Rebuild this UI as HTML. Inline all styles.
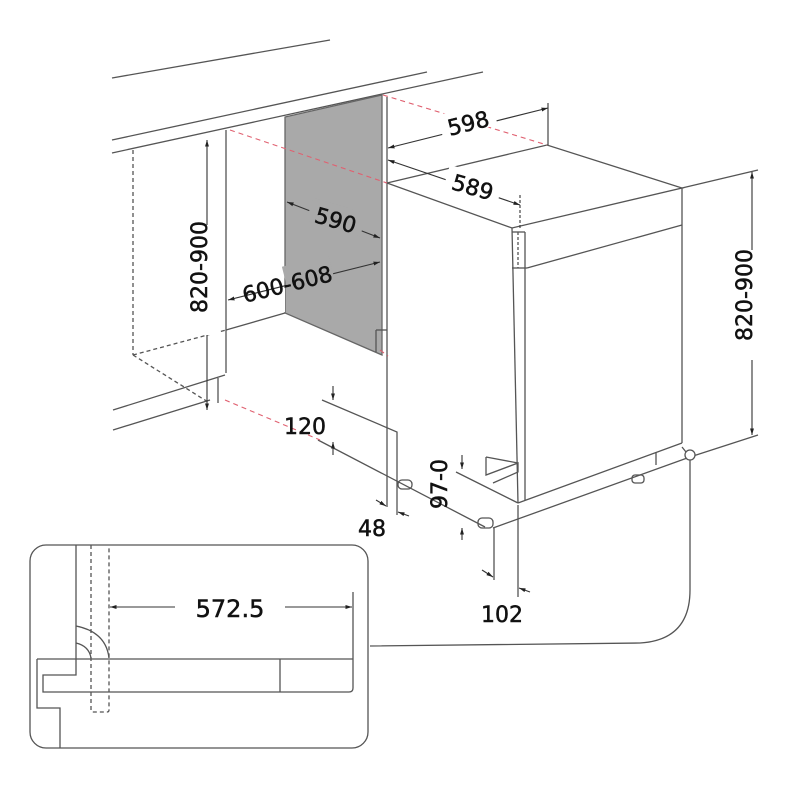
<!DOCTYPE html>
<html><head><style>
html,body{margin:0;padding:0;background:#fff;}
svg{display:block;}
text{font-family:"DejaVu Sans","Liberation Sans",sans-serif;fill:#111;stroke:#111;stroke-width:0.5;}
</style></head><body>
<svg width="800" height="800" viewBox="0 0 800 800" xmlns="http://www.w3.org/2000/svg">
<defs>
<marker id="a" viewBox="0 0 10 10" refX="10" refY="5" markerWidth="6" markerHeight="6" orient="auto-start-reverse"><path d="M0,2 L10,5 L0,8z" fill="#222"/></marker>
</defs>
<g stroke="#555" stroke-width="1.3" fill="none">
<line x1="112" y1="78" x2="330" y2="40"/>
<line x1="112" y1="140" x2="427" y2="72"/>
<line x1="112" y1="153" x2="483" y2="72"/>
<polygon points="285,117 382,95 382,355 285,313" fill="#a9a9a9" stroke="#666"/>
<line x1="226" y1="130" x2="226" y2="373"/>
<line x1="226" y1="330" x2="285" y2="313"/>
<line x1="133" y1="150" x2="133" y2="355" stroke-dasharray="4,3"/>
<line x1="133" y1="355" x2="226" y2="330" stroke-dasharray="4,3"/>
<line x1="133" y1="355" x2="208" y2="402" stroke-dasharray="4,3"/>
<line x1="113" y1="410" x2="225" y2="375"/>
<line x1="113" y1="430" x2="210" y2="400"/>
<line x1="218" y1="378" x2="218" y2="403"/>
<line x1="387" y1="97" x2="387" y2="480"/>
<line x1="376" y1="330" x2="376" y2="352"/>
<line x1="376" y1="330" x2="387" y2="330"/>
<polyline points="322,400 397,432 397,485"/>
<line x1="318" y1="440" x2="485" y2="527"/>
<polygon points="387,183 547,145 682,188 512,228" fill="#fff"/>
<line x1="512" y1="228" x2="518" y2="503"/>
<line x1="525" y1="232" x2="525" y2="500"/>
<line x1="512" y1="232" x2="525" y2="232"/>
<line x1="512" y1="268" x2="527" y2="268"/>
<line x1="527" y1="268" x2="682" y2="225"/>
<line x1="518" y1="232" x2="518" y2="268" stroke-dasharray="3,2"/>
<line x1="682" y1="188" x2="682" y2="443"/>
<line x1="518" y1="503" x2="682" y2="443"/>
<line x1="493" y1="528" x2="690" y2="457"/>
<line x1="682" y1="447" x2="690" y2="457"/>
<line x1="456" y1="472" x2="518" y2="503"/>
<polyline points="486,457 486,475 518,463 518,472 493,483"/>
<line x1="486" y1="457" x2="518" y2="463"/>
<line x1="656" y1="452" x2="656" y2="465"/>
<rect x="398" y="480" width="14" height="9" rx="4"/>
<rect x="478" y="518" width="15" height="10" rx="4"/>
<rect x="632" y="475" width="12" height="8" rx="3"/>
<line x1="494" y1="528" x2="494" y2="580"/>
<line x1="518" y1="505" x2="518" y2="597"/>
<line x1="387" y1="480" x2="387" y2="507"/>
<line x1="397" y1="485" x2="397" y2="515"/>
<line x1="682" y1="188" x2="758" y2="170"/>
<line x1="690" y1="457" x2="758" y2="435"/>
<circle cx="690" cy="455" r="5" fill="#fff"/>
<path d="M690,460 L690,590 Q690,640 640,643 L370,646"/>
<rect x="30" y="545" width="338" height="203" rx="16"/>
<path d="M76,545 L76,675 L43,675 L43,692 L349,692 Q353,692 353,688 L353,592"/>
<path d="M37,659 L353,659"/>
<path d="M37,659 L37,708 L60,708 L60,748"/>
<line x1="280" y1="659" x2="280" y2="692"/>
<path d="M91,545 L91,710 Q91,712 93,712 L107,712 Q109,712 109,710 L109,545" stroke-dasharray="4,3"/>
<path d="M76,626 Q106,632 109,658"/>
<path d="M76,643 Q89,646 91,658"/>
</g>
<g stroke="#e06070" stroke-width="1.1" stroke-dasharray="5,4" fill="none">
<line x1="230" y1="130" x2="387" y2="183"/>
<line x1="383" y1="95" x2="547" y2="145"/>
<line x1="225" y1="400" x2="320" y2="440"/>
<line x1="380" y1="350" x2="388" y2="356"/>
</g>
<g stroke="#333" stroke-width="1.1" fill="none">
<line x1="207" y1="140" x2="207" y2="410" marker-start="url(#a)" marker-end="url(#a)"/>
<line x1="752" y1="172" x2="752" y2="435" marker-start="url(#a)" marker-end="url(#a)"/>
<line x1="388" y1="148" x2="548" y2="108" marker-start="url(#a)" marker-end="url(#a)"/>
<line x1="548" y1="103" x2="548" y2="145"/>
<line x1="388" y1="160" x2="520" y2="205" marker-start="url(#a)" marker-end="url(#a)"/>
<line x1="520" y1="195" x2="520" y2="230" stroke-dasharray="3,2"/>
<line x1="287" y1="202" x2="380" y2="238" marker-start="url(#a)" marker-end="url(#a)"/>
<line x1="228" y1="300" x2="380" y2="262" marker-start="url(#a)" marker-end="url(#a)"/>
<line x1="110" y1="607" x2="352" y2="607" marker-start="url(#a)" marker-end="url(#a)"/>
<line x1="333" y1="386" x2="333" y2="400" marker-end="url(#a)"/>
<line x1="333" y1="455" x2="333" y2="442" marker-end="url(#a)"/>
<line x1="462" y1="455" x2="462" y2="469" marker-end="url(#a)"/>
<line x1="462" y1="540" x2="462" y2="528" marker-end="url(#a)"/>
<line x1="376" y1="500" x2="386" y2="506" marker-end="url(#a)"/>
<line x1="409" y1="516" x2="398" y2="512" marker-end="url(#a)"/>
<line x1="482" y1="570" x2="493" y2="577" marker-end="url(#a)"/>
<line x1="530" y1="592" x2="519" y2="588" marker-end="url(#a)"/>
</g>
<g font-size="22">
<rect x="440" y="108" width="56" height="24" fill="#fff" transform="rotate(-14 468 122)"/>
<text x="468" y="131" text-anchor="middle" transform="rotate(-14 468 122)">598</text>
<rect x="445" y="172" width="56" height="24" fill="#fff" transform="rotate(16 473 186)"/>
<text x="473" y="195" text-anchor="middle" transform="rotate(16 473 186)">589</text>
<rect x="308" y="205" width="56" height="24" fill="#a9a9a9" transform="rotate(16 336 219)"/>
<text x="336" y="228" text-anchor="middle" transform="rotate(16 336 219)">590</text>
<polygon points="236,300 285,288 285,312 240,323" fill="#fff" transform="rotate(0)"/>
<rect x="286" y="266" width="48" height="24" fill="#a9a9a9" transform="rotate(-14 287 283)"/>
<text x="287" y="292" text-anchor="middle" transform="rotate(-14 287 283)">600-608</text>
<rect x="195" y="225" width="24" height="110" fill="#fff"/>
<text x="215" y="275" text-anchor="middle" transform="rotate(-90 207 275)">820-900</text>
<rect x="740" y="250" width="24" height="110" fill="#fff"/>
<text x="760" y="303" text-anchor="middle" transform="rotate(-90 752 303)">820-900</text>
<text x="305" y="434" text-anchor="middle">120</text>
<text x="372" y="536" text-anchor="middle">48</text>
<text x="448" y="499" text-anchor="middle" transform="rotate(-90 440 492)">97-0</text>
<text x="502" y="622" text-anchor="middle">102</text>
<rect x="175" y="594" width="110" height="26" fill="#fff"/>
<text x="230" y="617" text-anchor="middle" font-size="24">572.5</text>
</g>
</svg>
</body></html>
